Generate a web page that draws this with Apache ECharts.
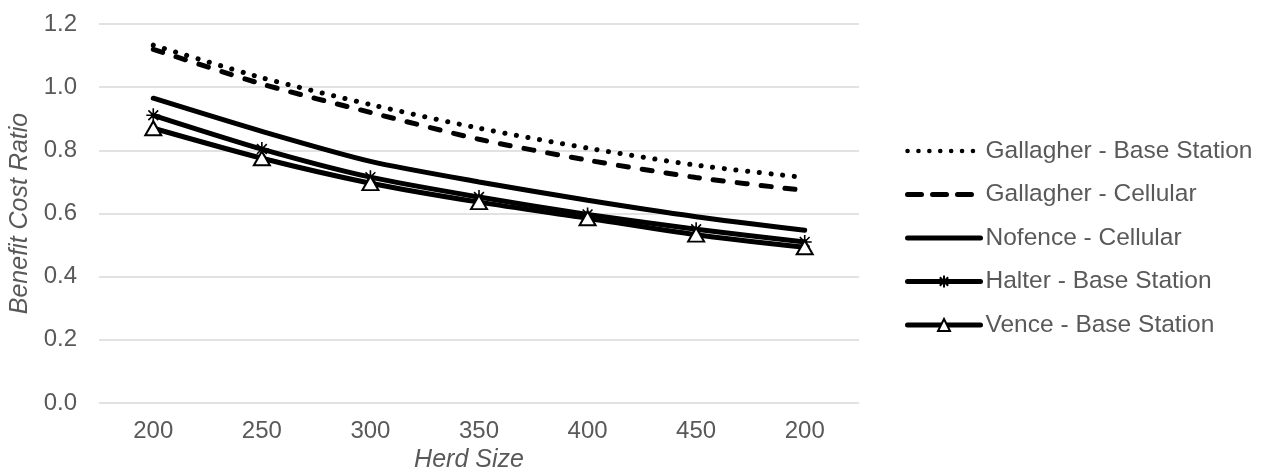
<!DOCTYPE html>
<html>
<head>
<meta charset="utf-8">
<script src="https://cdn.jsdelivr.net/npm/echarts@6/dist/echarts.min.js"></script>
<style>
  html, body { margin: 0; padding: 0; background: #fff; }
  #chart { width: 1269px; height: 467px; }
</style>
</head>
<body>
<div id="chart"></div>
<script>
// 数据
const herdSizes = ['200', '250', '300', '350', '400', '450', '200']
const gallagherBase = [1.133, 1.03, 0.945, 0.87, 0.807, 0.753, 0.714]
const gallagherCell = [1.12, 1.01, 0.92, 0.835, 0.769, 0.714, 0.673]
const nofenceCell = [0.965, 0.86, 0.765, 0.70, 0.642, 0.59, 0.547]
const halterBase = [0.911, 0.804, 0.715, 0.652, 0.597, 0.55, 0.51]
const venceBase = [0.870, 0.775, 0.696, 0.636, 0.585, 0.533, 0.493]

const textColor = '#595959'
const font = 'Liberation Sans'

// 星号标记
const star = 'path://M0,5L10,5M5,0L5,10M1.5,1.5L8.5,8.5M8.5,1.5L1.5,8.5'

const chart = echarts.init(document.getElementById('chart'))

const lineSeries = (name, data, extra) => Object.assign({
  name,
  type: 'line',
  data,
  smooth: 0.25,
  symbol: 'none',
  lineStyle: { color: '#000', width: 5, cap: 'round' },
  itemStyle: { color: '#000' },
  z: 3
}, extra)

const hidden = { color: 'transparent', borderColor: 'transparent', borderWidth: 0 }

chart.setOption({
  animation: false,
  textStyle: { fontFamily: font },
  grid: { left: 99, right: 410, top: 24, bottom: 64, outerBoundsMode: 'none', containLabel: false },
  legend: {
    orient: 'vertical',
    left: 905,
    top: 136,
    padding: 0,
    itemWidth: 73,
    itemHeight: 15,
    itemGap: 13.5,
    lineStyle: { width: 5 },
    textStyle: { color: textColor, fontSize: 24.5, lineHeight: 30, fontFamily: font },
    data: [
      { name: 'Gallagher - Base Station', itemStyle: hidden, lineStyle: { width: 4.5, type: [0.1, 10.8], cap: 'round' } },
      { name: 'Gallagher - Cellular', itemStyle: hidden, lineStyle: { width: 5, type: [14, 11], cap: 'round' } },
      { name: 'Nofence - Cellular', itemStyle: hidden },
      { name: 'Halter - Base Station' },
      { name: 'Vence - Base Station' }
    ]
  },
  xAxis: {
    type: 'category',
    data: herdSizes,
    name: 'Herd Size',
    nameLocation: 'middle',
    nameGap: 38,
    nameTextStyle: { color: textColor, fontSize: 25, fontStyle: 'italic', padding: [0, 20, 0, 0] },
    axisLine: { show: false },
    axisTick: { show: false },
    axisLabel: { color: textColor, fontSize: 24, margin: 16 }
  },
  yAxis: {
    type: 'value',
    min: 0,
    max: 1.2,
    interval: 0.2,
    name: 'Benefit Cost Ratio',
    nameLocation: 'middle',
    nameGap: 64,
    nameTextStyle: { color: textColor, fontSize: 25, fontStyle: 'italic' },
    axisLine: { show: false },
    axisTick: { show: false },
    axisLabel: { color: textColor, fontSize: 24, margin: 22, formatter: v => v.toFixed(1) },
    splitLine: { lineStyle: { color: '#d9d9d9', width: 1.5 } }
  },
  series: [
    lineSeries('Gallagher - Base Station', gallagherBase, {
      lineStyle: { color: '#000', width: 5, type: [0.1, 11.6], cap: 'round' }
    }),
    lineSeries('Gallagher - Cellular', gallagherCell, {
      lineStyle: { color: '#000', width: 5, type: [10, 14], cap: 'round' }
    }),
    lineSeries('Nofence - Cellular', nofenceCell),
    lineSeries('Halter - Base Station', halterBase, {
      symbol: star,
      symbolSize: 14,
      showAllSymbol: true,
      itemStyle: { color: 'none', borderColor: '#000', borderWidth: 1.6 }
    }),
    lineSeries('Vence - Base Station', venceBase, {
      symbol: 'triangle',
      symbolSize: [16, 14],
      showAllSymbol: true,
      itemStyle: { color: '#fff', borderColor: '#000', borderWidth: 2 }
    })
  ]
})
</script>
</body>
</html>
